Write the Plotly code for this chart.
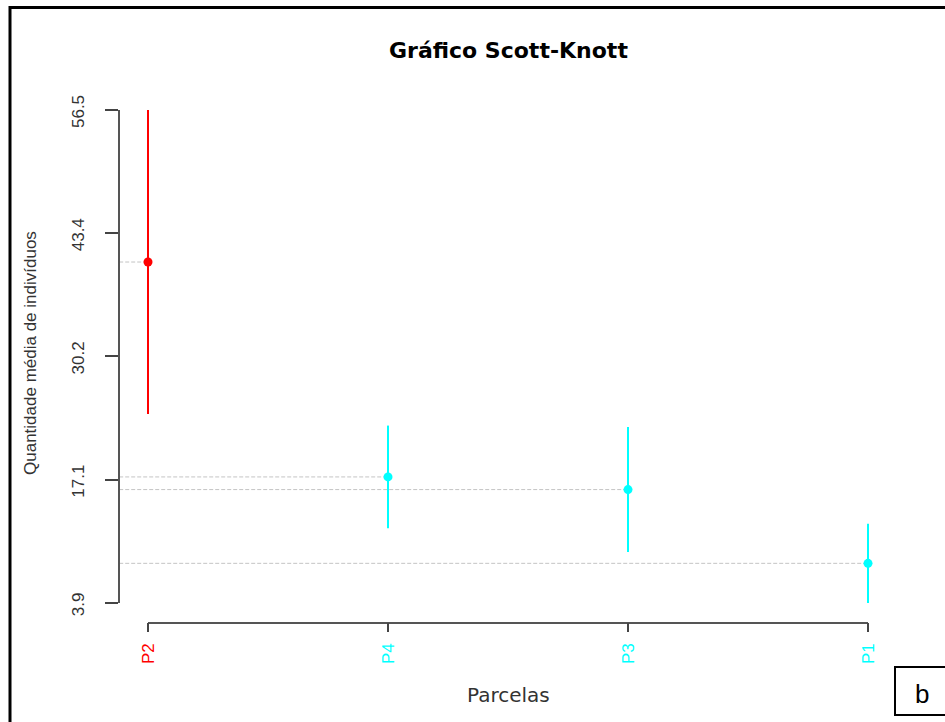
import plotly.graph_objects as go

# Scott-Knott result: mean number of individuals per plot with confidence half-widths
parcelas = ["P2", "P4", "P3", "P1"]
medias = [40.28, 17.35, 16.0, 8.13]
semi_amplitude = [16.22, 5.48, 6.67, 4.23]
grupos = ["a", "b", "b", "b"]
cores_grupo = {"a": "#FF0000", "b": "#00FFFF"}
y_ticks = [3.9, 17.05, 30.2, 43.35, 56.5]
y_tick_labels = ["3.9", "17.1", "30.2", "43.4", "56.5"]

W, H = 945, 722
# plotting region (pixels)
L, R, T, B = 119.2, 896.8, 90.3, 622.7

n = len(parcelas)
pos = list(range(1, n + 1))
xr = [1 - 0.04 * (n - 1), n + 0.04 * (n - 1)]
lo = min(m - s for m, s in zip(medias, semi_amplitude))
hi = max(m + s for m, s in zip(medias, semi_amplitude))
yr = [lo - 0.04 * (hi - lo), hi + 0.04 * (hi - lo)]

xdom = [L / W, R / W]
ydom = [1 - B / H, 1 - T / H]


def xfrac(v):
    return xdom[0] + (v - xr[0]) / (xr[1] - xr[0]) * (xdom[1] - xdom[0])


def yfrac(v):
    return ydom[0] + (v - yr[0]) / (yr[1] - yr[0]) * (ydom[1] - ydom[0])


fig = go.Figure()

# dotted guides from the y axis to each mean
for p, m in zip(pos, medias):
    fig.add_trace(go.Scatter(
        x=[xr[0], p], y=[m, m], mode="lines",
        line=dict(color="#C4C4C4", width=1, dash="4px,2px"),
        hoverinfo="skip", showlegend=False,
    ))

# means with interval bars, one trace per group
for g, cor in cores_grupo.items():
    idx = [i for i, gg in enumerate(grupos) if gg == g]
    fig.add_trace(go.Scatter(
        x=[pos[i] for i in idx],
        y=[medias[i] for i in idx],
        mode="markers",
        marker=dict(color=cor, size=9),
        error_y=dict(type="data", symmetric=True,
                     array=[semi_amplitude[i] for i in idx],
                     color=cor, thickness=2, width=0),
        showlegend=False,
    ))

# carrier trace for the displayed axes
fig.add_trace(go.Scatter(
    x=[1], y=[lo], xaxis="x2", yaxis="y2", mode="markers",
    marker=dict(opacity=0), hoverinfo="skip", showlegend=False,
))

tick_font = dict(family="Liberation Sans, Arial, sans-serif", size=17, color="#333333")
x_tick_text = [
    f'<span style="color:{cores_grupo[g]}">{p}</span>' for p, g in zip(parcelas, grupos)
]

fig.update_layout(
    width=W, height=H,
    margin=dict(l=0, r=0, t=0, b=0, autoexpand=False),
    paper_bgcolor="white", plot_bgcolor="rgba(0,0,0,0)",
    showlegend=False,
    xaxis=dict(domain=xdom, range=xr, visible=False),
    yaxis=dict(domain=ydom, range=yr, visible=False),
    xaxis2=dict(
        domain=[xfrac(1), xfrac(n)], range=[1, n], anchor="free", position=ydom[0],
        tickmode="array", tickvals=pos, ticktext=x_tick_text, tickangle=-90,
        ticks="outside", ticklen=9, tickwidth=1.5, tickcolor="#444444",
        showline=True, linecolor="#555555", linewidth=1.5,
        showgrid=False, zeroline=False, tickfont=tick_font, ticklabelstandoff=4,
    ),
    yaxis2=dict(
        domain=[yfrac(lo), yfrac(hi)], range=[lo, hi], anchor="free", position=xdom[0],
        side="left",
        tickmode="array", tickvals=y_ticks, ticktext=y_tick_labels, tickangle=-90,
        ticks="outside", ticklen=13, tickwidth=1.5, tickcolor="#444444",
        showline=True, linecolor="#555555", linewidth=2,
        showgrid=False, zeroline=False, tickfont=tick_font,
        ticklabelstandoff=14, ticklabelshift=4,
    ),
)

# titles
fig.add_annotation(
    text="<b>Gráfico Scott-Knott</b>", xref="paper", yref="paper",
    x=(xdom[0] + xdom[1]) / 2, y=1 - 51 / H, xanchor="center", yanchor="middle",
    showarrow=False, font=dict(family="DejaVu Sans", size=22, color="#000000"),
)
fig.add_annotation(
    text="Parcelas", xref="paper", yref="paper",
    x=(xdom[0] + xdom[1]) / 2, y=1 - 695 / H, xanchor="center", yanchor="middle",
    showarrow=False, font=dict(family="DejaVu Sans", size=20, color="#333333"),
)
fig.add_annotation(
    text="Quantidade média de indivíduos", xref="paper", yref="paper",
    x=30 / W, y=1 - 353 / H, xanchor="center", yanchor="middle", textangle=-90,
    showarrow=False, font=dict(family="Liberation Sans, Arial, sans-serif", size=17, color="#333333"),
)

# page frame and panel letter
fig.add_shape(
    type="path", xref="paper", yref="paper",
    path=f"M {10 / W},-0.01 L {10 / W},{1 - 7.5 / H} L 1.01,{1 - 7.5 / H}",
    line=dict(color="black", width=3),
)
fig.add_shape(
    type="rect", xref="paper", yref="paper",
    x0=895 / W, x1=1.01, y0=1 - 715 / H, y1=1 - 667 / H,
    line=dict(color="black", width=2), fillcolor="white",
)
fig.add_annotation(
    text="b", xref="paper", yref="paper",
    x=922 / W, y=1 - 694 / H, xanchor="center", yanchor="middle",
    showarrow=False, font=dict(family="Liberation Sans, Arial, sans-serif", size=26, color="black"),
)

fig.write_html("out.html")
